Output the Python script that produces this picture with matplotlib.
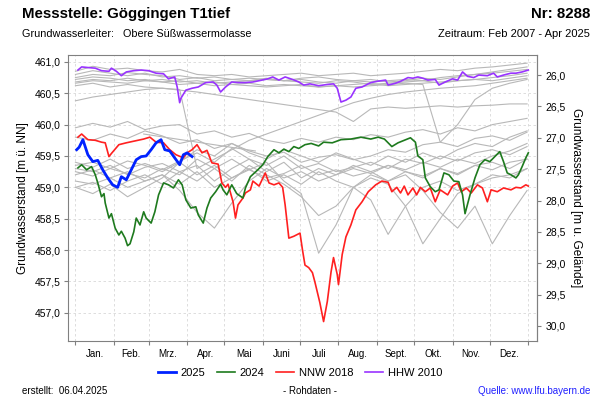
import numpy as np
import matplotlib
matplotlib.use("Agg")
import matplotlib.pyplot as plt
from matplotlib.ticker import FuncFormatter, FixedLocator

plt.rcParams['font.family'] = ['Liberation Sans', 'DejaVu Sans']

# Geländehöhe (Umrechnung m ü. NN -> m u. Gelände)
ground = 486.79

# Monate
month_start = [0, 31, 59, 90, 120, 151, 181, 212, 243, 273, 304, 334, 365]
month_names = ["Jan.", "Feb.", "Mrz.", "Apr.", "Mai", "Juni", "Juli", "Aug.",
               "Sept.", "Okt.", "Nov.", "Dez."]

# 2025
days_2025 = [1, 3, 6, 10, 14, 18, 22, 26, 30, 34, 37, 41, 45, 49, 53, 57, 61, 65,
             69, 72, 76, 80, 84, 87, 90, 94]
vals_2025 = [459.60, 459.64, 459.76, 459.52, 459.41, 459.43, 459.28, 459.15, 459.04,
             459.00, 459.17, 459.12, 459.28, 459.44, 459.49, 459.50, 459.60, 459.71,
             459.76, 459.60, 459.58, 459.47, 459.36, 459.52, 459.55, 459.49]

# 2024
days_2024 = [2, 5, 9, 13, 16, 18, 21, 23, 24, 27, 29, 32, 35, 37, 40, 42, 44, 47, 49,
             52, 55, 57, 61, 64, 67, 71, 75, 79, 83, 86, 89, 93, 97, 99, 103, 106,
             109, 113, 117, 119, 122, 126, 130, 135, 137, 141, 147, 151, 155, 160,
             164, 168, 172, 176, 180, 185, 190, 196, 200, 207, 214, 222, 230, 238,
             244, 249, 255, 260, 265, 270, 274, 276, 280, 282, 286, 290, 293, 297,
             301, 305, 309, 312, 314, 318, 322, 326, 330, 334, 338, 342, 345, 348,
             351, 355, 357, 360, 363, 365]
vals_2024 = [459.31, 459.36, 459.28, 459.33, 459.20, 459.07, 458.85, 458.90, 458.75,
             458.51, 458.58, 458.35, 458.24, 458.30, 458.19, 458.07, 458.10, 458.29,
             458.51, 458.40, 458.61, 458.51, 458.43, 458.61, 458.88, 459.07, 459.04,
             458.99, 459.12, 459.04, 458.80, 458.67, 458.69, 458.56, 458.43, 458.67,
             458.83, 458.93, 459.05, 458.96, 458.88, 459.04, 458.90, 458.83, 458.99,
             459.17, 459.28, 459.36, 459.49, 459.60, 459.55, 459.61, 459.57, 459.65,
             459.62, 459.68, 459.70, 459.66, 459.72, 459.71, 459.76, 459.77, 459.80,
             459.77, 459.80, 459.77, 459.65, 459.71, 459.75, 459.79, 459.72, 459.50,
             459.44, 459.15, 459.01, 458.93, 458.96, 459.23, 459.20, 459.10, 459.09,
             458.88, 458.58, 458.88, 459.15, 459.36, 459.44, 459.41, 459.49, 459.57,
             459.41, 459.23, 459.20, 459.15, 459.20, 459.33, 459.47, 459.55]

# NNW 2018
days_nnw = [2, 5, 10, 16, 21, 24, 27, 29, 35, 41, 48, 55, 60, 65, 71, 76, 81, 87, 90,
            94, 98, 102, 106, 110, 115, 118, 121, 123, 127, 129, 131, 135, 137, 141,
            143, 148, 153, 156, 160, 164, 167, 169, 172, 176, 181, 183, 185, 188, 191,
            193, 197, 200, 203, 206, 208, 211, 212, 215, 218, 222, 226, 231, 236, 242,
            247, 252, 255, 259, 262, 265, 268, 272, 275, 278, 282, 286, 290, 294, 300,
            304, 308, 311, 315, 319, 324, 328, 332, 335, 340, 345, 351, 355, 359, 363,
            365]
vals_nnw = [459.80, 459.85, 459.76, 459.75, 459.72, 459.71, 459.49, 459.54, 459.68,
            459.71, 459.74, 459.77, 459.80, 459.72, 459.71, 459.60, 459.52, 459.47,
            459.55, 459.60, 459.68, 459.55, 459.59, 459.39, 459.37, 459.07, 459.00,
            459.05, 458.77, 458.51, 458.72, 458.83, 458.91, 458.96, 459.10, 459.02,
            459.23, 459.07, 459.04, 459.07, 459.00, 458.72, 458.19, 458.22, 458.27,
            458.00, 457.76, 457.72, 457.64, 457.49, 457.16, 456.86, 457.18, 457.65,
            457.88, 457.61, 457.45, 457.93, 458.21, 458.40, 458.64, 458.77, 458.93,
            459.04, 459.10, 459.08, 458.93, 459.00, 458.91, 459.02, 458.88, 458.99,
            458.88, 459.00, 458.93, 458.99, 458.77, 458.96, 458.88, 459.02, 459.07,
            458.93, 458.99, 458.91, 459.04, 458.99, 458.77, 458.96, 458.93, 458.99,
            458.96, 459.00, 458.99, 459.04, 459.02]

# HHW 2010
days_hhw = [2, 5, 10, 16, 21, 27, 29, 33, 37, 41, 47, 53, 59, 65, 71, 75, 80, 82, 84,
            85, 89, 94, 99, 105, 111, 114, 117, 121, 126, 131, 137, 143, 148, 155, 159,
            164, 169, 175, 180, 184, 189, 196, 203, 208, 211, 214, 218, 222, 226, 231,
            238, 243, 250, 252, 258, 262, 268, 272, 276, 280, 284, 290, 293, 298, 304,
            308, 312, 316, 321, 325, 332, 337, 340, 345, 351, 355, 360, 365]
vals_hhw = [460.87, 460.92, 460.91, 460.90, 460.86, 460.85, 460.90, 460.85, 460.78,
            460.84, 460.86, 460.87, 460.86, 460.82, 460.81, 460.73, 460.76, 460.60,
            460.35, 460.42, 460.55, 460.58, 460.60, 460.67, 460.68, 460.63, 460.52,
            460.60, 460.68, 460.67, 460.67, 460.68, 460.70, 460.73, 460.76, 460.71,
            460.76, 460.72, 460.68, 460.63, 460.65, 460.62, 460.64, 460.65, 460.58,
            460.36, 460.39, 460.44, 460.58, 460.60, 460.67, 460.69, 460.71, 460.63,
            460.66, 460.69, 460.75, 460.74, 460.76, 460.74, 460.71, 460.72, 460.63,
            460.68, 460.73, 460.71, 460.84, 460.77, 460.75, 460.79, 460.78, 460.82,
            460.76, 460.79, 460.82, 460.82, 460.84, 460.87]

# übrige Jahre (grau), 14-Tage-Raster
days_grey = list(range(0, 365, 14))
grey_years = [
    [460.85, 460.93, 460.88, 460.90, 460.86, 460.84, 460.88, 460.80, 460.78, 460.80,
     460.76, 460.78, 460.80, 460.82, 460.78, 460.80, 460.82, 460.78, 460.80, 460.82,
     460.85, 460.88, 460.86, 460.90, 460.92, 460.95, 460.98],
    [460.75, 460.80, 460.78, 460.83, 460.80, 460.78, 460.72, 460.75, 460.70, 460.72,
     460.74, 460.72, 460.70, 460.74, 460.76, 460.72, 460.70, 460.68, 460.70, 460.72,
     460.70, 460.75, 460.78, 460.80, 460.82, 460.85, 460.88],
    [460.68, 460.72, 460.70, 460.74, 460.70, 460.72, 460.68, 460.70, 460.66, 460.68,
     460.70, 460.72, 460.70, 460.68, 460.66, 460.70, 460.68, 460.64, 460.66, 460.68,
     460.70, 460.66, 460.70, 460.72, 460.75, 460.78, 460.82],
    [460.66, 460.70, 460.68, 460.66, 460.70, 460.68, 460.64, 460.66, 460.62, 460.64,
     460.62, 460.60, 460.62, 460.64, 460.60, 460.62, 460.64, 460.66, 460.62, 460.64,
     460.66, 460.68, 460.70, 460.72, 460.70, 460.74, 460.78],
    [460.80, 460.86, 460.82, 460.78, 460.82, 460.76, 460.78, 460.74, 460.76, 460.72,
     460.70, 460.74, 460.70, 460.72, 460.68, 460.66, 460.70, 460.72, 460.68, 460.70,
     460.74, 460.72, 460.76, 460.80, 460.84, 460.88, 460.92],
    [460.72, 460.76, 460.74, 460.70, 460.72, 460.68, 460.70, 460.66, 460.68, 460.64,
     460.66, 460.62, 460.64, 460.62, 460.60, 460.62, 460.60, 460.62, 460.64, 460.66,
     460.64, 459.72, 460.00, 460.40, 460.58, 460.66, 460.72],
    [460.62, 460.66, 460.60, 460.64, 460.60, 460.58, 460.56, 459.30, 459.45, 459.60,
     459.75, 459.85, 459.95, 460.05, 460.15, 460.25, 460.35, 460.42, 460.48, 460.52,
     460.55, 460.58, 460.60, 460.62, 460.66, 460.70, 460.74],
    [460.38, 460.44, 460.48, 460.52, 460.56, 460.58, 460.55, 460.52, 460.48, 460.44,
     460.40, 460.36, 460.32, 460.28, 460.24, 460.20, 460.05, 460.25, 460.28, 460.26,
     460.28, 460.30, 460.28, 460.30, 460.31, 460.33, 460.33],
    [459.95, 460.02, 459.96, 460.05, 459.92, 459.98, 460.00, 459.85, 459.90, 459.80,
     459.86, 459.75, 459.70, 459.78, 459.72, 459.80, 459.76, 459.84, 459.80, 459.88,
     459.92, 459.85, 459.95, 459.90, 460.00, 460.05, 460.10],
    [459.80, 459.75, 459.85, 459.78, 459.90, 459.82, 459.70, 459.76, 459.62, 459.70,
     459.58, 459.50, 459.56, 459.40, 459.48, 459.52, 459.44, 459.50, 459.60, 459.56,
     459.68, 459.72, 459.65, 459.78, 459.82, 459.75, 459.88],
    [459.40, 459.32, 459.45, 459.30, 459.38, 459.28, 459.42, 459.55, 459.40, 459.62,
     459.45, 459.35, 459.50, 459.30, 459.38, 459.25, 459.32, 459.40, 459.30, 459.45,
     459.38, 459.50, 459.42, 459.55, 459.60, 459.52, 459.65],
    [459.30, 459.25, 459.35, 459.20, 459.32, 459.38, 459.25, 459.10, 459.30, 459.45,
     459.28, 459.15, 459.22, 459.35, 459.20, 459.28, 459.18, 459.25, 459.35, 459.28,
     459.40, 459.32, 459.45, 459.38, 459.50, 459.58, 459.70],
    [459.20, 459.28, 459.15, 459.25, 459.10, 459.20, 458.95, 458.60, 458.35, 458.75,
     459.10, 459.30, 459.15, 459.25, 459.10, 459.20, 459.30, 459.22, 459.35, 459.25,
     459.18, 459.30, 459.22, 459.35, 459.28, 459.40, 459.45],
    [459.35, 459.40, 459.30, 459.42, 459.35, 459.25, 459.40, 459.20, 459.35, 459.15,
     459.28, 459.40, 459.10, 458.90, 457.95, 458.40, 459.00, 459.20, 459.10, 459.25,
     459.15, 459.30, 459.20, 459.35, 459.40, 459.30, 459.45],
    [459.25, 459.18, 459.30, 459.22, 459.15, 459.30, 459.20, 459.45, 459.30, 459.10,
     459.35, 459.20, 459.05, 458.85, 458.55, 458.70, 459.00, 458.80, 458.25, 458.70,
     459.00, 459.10, 458.95, 459.05, 459.20, 459.15, 459.30],
    [459.10, 459.05, 459.15, 459.00, 459.10, 459.20, 459.05, 459.25, 459.00, 459.15,
     459.30, 459.10, 459.20, 459.05, 459.25, 459.10, 459.00, 459.15, 459.05, 458.70,
     458.10, 458.50, 458.90, 459.05, 459.15, 459.20, 459.30],
    [459.00, 459.08, 458.95, 459.10, 459.20, 459.05, 459.25, 459.35, 459.10, 459.30,
     459.45, 459.25, 459.40, 459.15, 459.30, 459.20, 459.35, 459.25, 459.10, 459.20,
     458.95, 458.60, 458.35, 458.70, 458.10, 458.55, 458.95],
    [459.00, 458.90, 459.05, 458.85, 459.00, 459.15, 459.40, 459.60, 459.50, 459.70,
     459.55, 459.45, 459.60, 459.50, 459.40, 459.55, 459.45, 459.35, 459.50, 459.40,
     459.55, 459.45, 459.60, 459.70, 459.65, 459.80, 459.90],
]
# Datenlücke (gerade Verbindung)
days_gap = [55, 145]
vals_gap = [459.85, 459.58]

fig = plt.figure(figsize=(6, 4), dpi=100)
ax = fig.add_axes([68 / 600, 1 - 341 / 400, (537 - 68) / 600, (341 - 55) / 400])

for g in grey_years:
    ax.plot(days_grey, g, color='#b8b8b8', lw=0.8, zorder=2)
ax.plot(days_gap, vals_gap, color='#b8b8b8', lw=0.8, zorder=2)

ax.plot(days_hhw, vals_hhw, color='#9933ff', lw=1.2, zorder=3, label='HHW 2010')
ax.plot(days_nnw, vals_nnw, color='#ff2020', lw=1.2, zorder=4, label='NNW 2018')
ax.plot(days_2024, vals_2024, color='#1e7a1e', lw=1.2, zorder=5, label='2024')
ax.plot(days_2025, vals_2025, color='#0022ff', lw=2.0, zorder=6, label='2025')

ax.set_xlim(-6, 372)
ax.set_ylim(456.55, 461.11)

comma = FuncFormatter(lambda v, p: f"{v:.1f}".replace('.', ','))
ax.set_yticks(np.arange(457.0, 461.01, 0.5))
ax.yaxis.set_major_formatter(comma)

ax.xaxis.set_major_locator(FixedLocator(month_start))
ax.xaxis.set_major_formatter(FuncFormatter(lambda v, p: ''))
mids = [(month_start[i] + month_start[i + 1]) / 2 for i in range(12)]
ax.xaxis.set_minor_locator(FixedLocator(mids))
ax.set_xticklabels(month_names, minor=True)
ax.tick_params(axis='x', which='minor', length=0, pad=6, labelsize=7)
ax.tick_params(axis='x', which='major', length=3, color='#808080')
ax.tick_params(axis='y', length=3, color='#808080', labelsize=7.5, pad=2)

ax.grid(True, which='major', color='#d8d8d8', ls='--', lw=0.6, dashes=(3, 3))
ax.set_axisbelow(True)
for s in ax.spines.values():
    s.set_color('#808080')

ax.set_ylabel('Grundwasserstand [m ü. NN]', fontsize=8.5, labelpad=4)

sec = ax.secondary_yaxis('right', functions=(lambda x: ground - x, lambda x: ground - x))
sec.set_yticks(np.arange(26.0, 30.01, 0.5))
sec.yaxis.set_major_formatter(comma)
sec.tick_params(length=3, color='#808080', labelsize=7.5, pad=3)
sec.spines['right'].set_color('#808080')
sec.set_ylabel('Grundwasserstand [m u. Gelände]', fontsize=8.5, rotation=-90, labelpad=12)

# Texte
fig.text(22 / 600, 1 - 14 / 400, 'Messstelle: Göggingen T1tief', fontsize=10.8,
         fontweight='bold', va='center', ha='left')
fig.text(590 / 600, 1 - 14 / 400, 'Nr: 8288', fontsize=10.8, fontweight='bold',
         va='center', ha='right')
fig.text(22 / 600, 1 - 34 / 400, 'Grundwasserleiter:   Obere Süßwassermolasse',
         fontsize=7.8, va='center', ha='left')
fig.text(590 / 600, 1 - 34 / 400, 'Zeitraum: Feb 2007 - Apr 2025', fontsize=8,
         va='center', ha='right')

h, l = ax.get_legend_handles_labels()
order = [3, 2, 1, 0]
fig.legend([h[i] for i in order], [l[i] for i in order], loc='center',
           bbox_to_anchor=(300 / 600, 1 - 373 / 400), ncol=4, frameon=False,
           fontsize=8, handlelength=1.6, handletextpad=0.4, columnspacing=1.1)

fig.text(22 / 600, 1 - 391 / 400, 'erstellt:  06.04.2025', fontsize=7,
         va='center', ha='left')
fig.text(310 / 600, 1 - 391 / 400, '- Rohdaten -', fontsize=7, va='center', ha='center')
fig.text(590 / 600, 1 - 391 / 400, 'Quelle: www.lfu.bayern.de', fontsize=7,
         va='center', ha='right', color='#2020ff')

fig.savefig('out.png', dpi=100)
